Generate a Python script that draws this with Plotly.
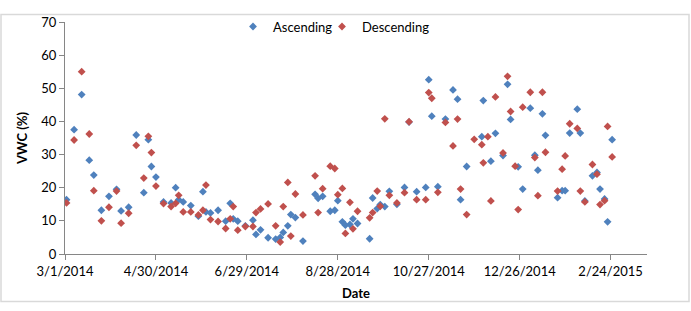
import plotly.graph_objects as go

dates = [
    "2014-03-02", "2014-03-07", "2014-03-12", "2014-03-17", "2014-03-20", "2014-03-25", "2014-03-30",
    "2014-04-04", "2014-04-07", "2014-04-12", "2014-04-17", "2014-04-22", "2014-04-25", "2014-04-27",
    "2014-04-30", "2014-05-05", "2014-05-10", "2014-05-13", "2014-05-15", "2014-05-18", "2014-05-23",
    "2014-05-28", "2014-05-31", "2014-06-02", "2014-06-05", "2014-06-10", "2014-06-15", "2014-06-18",
    "2014-06-20", "2014-06-23", "2014-06-28", "2014-07-03", "2014-07-05", "2014-07-08", "2014-07-13",
    "2014-07-18", "2014-07-21", "2014-07-23", "2014-07-26", "2014-07-28", "2014-07-31", "2014-08-05",
    "2014-08-13", "2014-08-15", "2014-08-18", "2014-08-23", "2014-08-26", "2014-08-28", "2014-08-31",
    "2014-09-02", "2014-09-05", "2014-09-07", "2014-09-10", "2014-09-18", "2014-09-20", "2014-09-23",
    "2014-09-25", "2014-09-28", "2014-10-01", "2014-10-06", "2014-10-11", "2014-10-14", "2014-10-19",
    "2014-10-25", "2014-10-27", "2014-10-29", "2014-11-02", "2014-11-07", "2014-11-12", "2014-11-15",
    "2014-11-17", "2014-11-21", "2014-11-26", "2014-12-01", "2014-12-02", "2014-12-05", "2014-12-07",
    "2014-12-10", "2014-12-15", "2014-12-18", "2014-12-20", "2014-12-23", "2014-12-25", "2014-12-28",
    "2015-01-02", "2015-01-05", "2015-01-07", "2015-01-10", "2015-01-12", "2015-01-20", "2015-01-23",
    "2015-01-25", "2015-01-28", "2015-02-02", "2015-02-04", "2015-02-07", "2015-02-12", "2015-02-15",
    "2015-02-17", "2015-02-20", "2015-02-22", "2015-02-25",
]

ascending = [
    16.4, 37.5, 48.1, 28.3, 23.8, 13.2, 17.4,
    19.5, 13.0, 14.1, 35.9, 18.5, 34.5, 26.4,
    23.2, 15.7, 15.4, 20.0, 16.4, 15.7, 14.6,
    11.4, 18.8, 12.7, 12.4, 13.2, 9.9, 15.3,
    10.6, 9.9, 8.5, 10.2, 5.9, 7.3, 4.9,
    4.5, 5.0, 6.5, 8.5, 11.9, 11.0, 3.9,
    18.0, 16.8, 17.4, 12.9, 13.2, 16.1, 9.7,
    8.7, 8.9, 10.6, 9.2, 4.6, 16.9, 13.7,
    14.9, 14.3, 18.9, 15.0, 20.1, 39.8, 18.8,
    20.1, 52.6, 41.6, 20.3, 40.7, 49.5, 46.7,
    16.4, 26.4, None, 35.4, 46.3, None, 28.0,
    36.4, 29.7, 51.2, 40.6, None, 26.3, 19.6,
    44.0, 29.8, 25.3, 42.3, 35.8, 17.0, 19.1,
    19.1, 36.5, 43.7, 36.5, 16.0, 23.6, 24.6,
    19.6, 16.6, 9.7, 34.5,
]

descending = [
    15.4, 34.4, 55.0, 36.2, 19.1, 10.0, 14.1,
    19.0, 9.3, 12.3, 32.8, 22.9, 35.5, 30.6,
    20.5, 15.2, 14.3, 15.3, 17.7, 12.7, 12.7,
    11.8, 13.2, 20.8, 10.4, 9.8, 7.7, 10.6,
    14.3, 7.2, 8.3, 8.3, 12.5, 13.6, 15.1,
    8.5, 3.6, 14.3, 21.6, 5.4, 18.1, 11.8,
    23.6, 12.5, 19.7, 26.5, 25.8, 17.9, 19.8,
    6.2, 15.6, 7.6, 12.9, 10.9, 12.5, 19.0,
    14.4, 40.8, 17.7, 15.4, 18.5, 39.9, 16.4,
    16.4, 48.7, 47.0, 18.6, 39.7, 32.6, 40.7,
    19.6, 11.9, 34.6, 33.0, 27.5, 35.4, 16.0,
    47.4, 30.5, 53.6, 43.0, 26.5, 13.4, 44.3,
    48.8, 29.1, 17.6, 48.8, 30.7, 19.0, 25.6,
    29.6, 39.3, 37.9, 19.0, 15.7, 27.0, 24.1,
    14.9, 16.1, 38.5, 29.3,
]

tick_vals = ["2014-03-01", "2014-04-30", "2014-06-29", "2014-08-28",
             "2014-10-27", "2014-12-26", "2015-02-24"]
tick_text = ["3/1/2014", "4/30/2014", "6/29/2014", "8/28/2014",
             "10/27/2014", "12/26/2014", "2/24/2015"]
y_ticks = [0, 10, 20, 30, 40, 50, 60, 70]

FONT = "Lato, 'Open Sans', sans-serif"
AXIS_GRAY = "#868686"

fig = go.Figure()
fig.add_trace(go.Scatter(
    x=dates, y=ascending, mode="markers", name="Ascending",
    marker=dict(symbol="diamond", size=6, color="#4F81BD"),
    legend="legend",
))
fig.add_trace(go.Scatter(
    x=dates, y=descending, mode="markers", name="Descending",
    marker=dict(symbol="diamond", size=6, color="#C0504D"),
    legend="legend2",
))

legend_common = dict(
    orientation="h", xanchor="left", y=1.045, yanchor="top",
    font=dict(size=13), bgcolor="rgba(0,0,0,0)",
    itemwidth=30, tracegroupgap=0,
)

fig.update_layout(
    width=691, height=311,
    margin=dict(l=65, r=44, t=13, b=54),
    paper_bgcolor="white", plot_bgcolor="white",
    font=dict(family=FONT, size=13, color="#000000"),
    showlegend=True,
    legend=dict(x=(233 - 65) / 582, **legend_common),
    legend2=dict(x=(322 - 65) / 582, **legend_common),
    xaxis=dict(
        type="date", range=["2014-03-01", "2015-03-20"],
        tickvals=tick_vals, ticktext=tick_text,
        showgrid=False, zeroline=False,
        showline=True, linecolor=AXIS_GRAY, linewidth=1,
        ticks="outside", ticklen=5, tickcolor=AXIS_GRAY,
        tickfont=dict(size=13),
        title=dict(text="<b>Date</b>", font=dict(size=13), standoff=11),
    ),
    yaxis=dict(
        range=[0, 70], tickvals=y_ticks,
        showgrid=False, zeroline=False,
        showline=True, linecolor=AXIS_GRAY, linewidth=1,
        ticks="outside", ticklen=5, tickcolor=AXIS_GRAY,
        tickfont=dict(size=13),
        title=dict(text="<b>VWC (%)</b>", font=dict(size=13), standoff=10),
    ),
    shapes=[dict(
        type="rect", xref="paper", yref="paper",
        x0=(1 - 65) / 582, x1=(689 - 65) / 582,
        y0=1 - (307 - 13) / 244, y1=1 - (5 - 13) / 244,
        line=dict(color="#D9D9D9", width=1.5), layer="below",
    )],
)

fig.write_html("out.html")
